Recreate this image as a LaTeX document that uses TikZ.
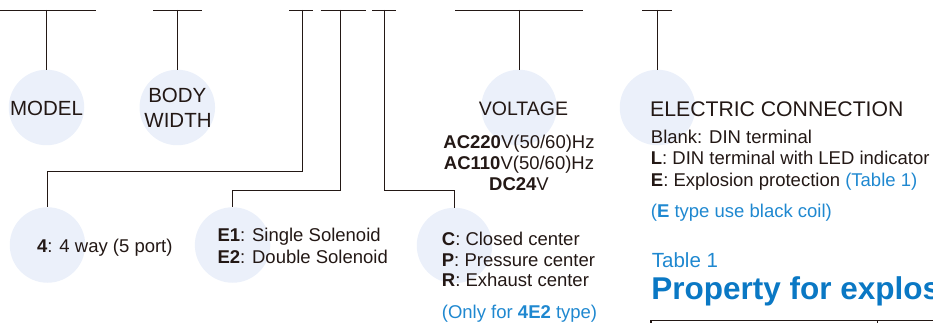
\documentclass[tikz,border=0pt]{standalone}
\usepackage{fontspec}
\setmainfont{Liberation Sans}
\definecolor{ink}{HTML}{231815}
\definecolor{bub}{HTML}{EBF0FA}
\definecolor{lblue}{HTML}{1F88D0}
\definecolor{tblue}{HTML}{0A78C4}
\begin{document}
\begin{tikzpicture}[x=1pt,y=-1pt,
  bubble/.style={circle,fill=bub,minimum size=75.5pt,inner sep=0pt},
  wire/.style={draw=ink,line width=0.9pt},
  head/.style={font=\fontsize{20.5}{24}\selectfont,text=ink,inner sep=0pt},
  body/.style={font=\fontsize{18.5}{21}\selectfont,text=ink,inner sep=0pt},
  note/.style={body,text=lblue},
  tline/.style={draw=ink,line width=1.1pt}]
\useasboundingbox (0,0) rectangle (933,323);

% bubbles
\node[bubble] (cModel) at (46.5,107.5) {};
\node[bubble] (cBody)  at (177.3,107.5) {};
\node[bubble] (cVolt)  at (519,107.5) {};
\node[bubble] (cElec)  at (657.5,107.5) {};
\node[bubble] (c4)     at (47.5,245) {};
\node[bubble] (cE)     at (232.6,245) {};
\node[bubble] (cC)     at (454.5,245.5) {};

% top bars
\coordinate (b1l) at (0,10);     \coordinate (b1r) at (95.7,10);  \coordinate (b1m) at (46.5,10);
\coordinate (b2l) at (153,10);   \coordinate (b2r) at (201.7,10); \coordinate (b2m) at (177.3,10);
\coordinate (b3l) at (289,10);   \coordinate (b3r) at (312.7,10); \coordinate (b3m) at (302.3,10);
\coordinate (b4l) at (320.7,10); \coordinate (b4r) at (365.7,10); \coordinate (b4m) at (340.7,10);
\coordinate (b5l) at (372.3,10); \coordinate (b5r) at (395.7,10); \coordinate (b5m) at (384.3,10);
\coordinate (b6l) at (455,10);   \coordinate (b6r) at (583.3,10); \coordinate (b6m) at (519,10);
\coordinate (b7l) at (642.3,10); \coordinate (b7r) at (672.3,10); \coordinate (b7m) at (657.5,10);
\coordinate (k3) at (302.3,171);
\coordinate (k4) at (340.7,190.7);
\coordinate (k5) at (384.3,190.7);

\foreach \i in {1,...,7} {\draw[wire] (b\i l) -- (b\i r);}
\draw[wire] (b1m) -- (cModel.north);
\draw[wire] (b2m) -- (cBody.north);
\draw[wire] (b6m) -- (cVolt.north);
\draw[wire] (b7m) -- (cElec.north);
\draw[wire] (b3m) -- (k3) -| (c4.north);
\draw[wire] (b4m) -- (k4) -| (cE.north);
\draw[wire] (b5m) -- (k5) -| (cC.north);

% headings
\node[head,anchor=base] (tModel) at (46.5,116) {MODEL};
\node[head,anchor=base] (tBody1) at (177.3,102.7) {BODY};
\node[head,anchor=base] (tBody2) at (178,127.7) {WIDTH};
\node[head,font=\fontsize{19.5}{24}\selectfont,anchor=base] (tVolt) at (523.5,116) {VOLTAGE};
\node[head,font=\fontsize{21.2}{24}\selectfont,anchor=base west] (tElec) at (650,117) {ELECTRIC CONNECTION};

% voltage options
\node[body,anchor=base] (v1) at (519,149) {\textbf{AC220}V(50/60)Hz};
\node[body,anchor=base] (v2) at (519,170) {\textbf{AC110}V(50/60)Hz};
\node[body,anchor=base] (v3) at (519,190.7) {\textbf{DC24}V};

% electric connection options
\node[body,anchor=base west] (e1) at (650.7,143.3) {Blank: DIN terminal};
\node[body,anchor=base west] (e2) at (650.7,164.5) {\textbf{L}: DIN terminal with LED indicator};
\node[body,anchor=base west] (e3) at (650.7,186) {\textbf{E}: Explosion protection \textcolor{lblue}{(Table 1)}};
\node[note,anchor=base west] (e4) at (650.7,217.5) {(\textbf{E} type use black coil)};

% bottom bubbles text
\node[body,anchor=base west] (w1) at (37,252.3) {\textbf{4}: 4 way (5 port)};
\node[body,anchor=base west] (s1) at (217.3,241) {\textbf{E1}: Single Solenoid};
\node[body,anchor=base west] (s2) at (217.3,263) {\textbf{E2}: Double Solenoid};
\node[body,anchor=base west] (p1) at (441.7,245) {\textbf{C}: Closed center};
\node[body,anchor=base west] (p2) at (441.7,266) {\textbf{P}: Pressure center};
\node[body,anchor=base west] (p3) at (441.7,286.7) {\textbf{R}: Exhaust center};
\node[note,anchor=base west] (p4) at (441.7,318) {(Only for \textbf{4E2} type)};

% table caption
\node[font=\fontsize{20.5}{24}\selectfont,text=lblue,inner sep=0pt,anchor=base west] (tab) at (651.7,267.3) {Table 1};
\node[font=\fontsize{31.5}{36}\selectfont\bfseries,text=tblue,inner sep=0pt,anchor=base west] (ttl) at (651.2,299.5) {Property for explos};

% table top border
\draw[tline] (651,330) |- (940,320.8);
\draw[tline] (877.3,320.8) -- (877.3,330);
\end{tikzpicture}
\end{document}
